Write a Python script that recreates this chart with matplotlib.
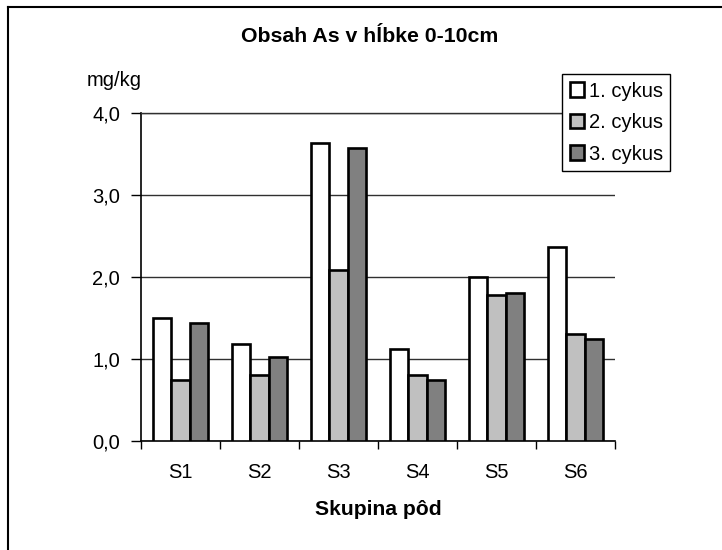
import matplotlib
matplotlib.use("Agg")
import matplotlib.pyplot as plt
import numpy as np
from matplotlib.lines import Line2D

plt.rcParams["font.family"] = ["Liberation Sans", "DejaVu Sans"]

categories = ["S1", "S2", "S3", "S4", "S5", "S6"]
series_names = ["1. cykus", "2. cykus", "3. cykus"]
cyklus_1 = [1.50, 1.18, 3.63, 1.12, 2.00, 2.37]
cyklus_2 = [0.75, 0.80, 2.08, 0.81, 1.78, 1.30]
cyklus_3 = [1.44, 1.03, 3.57, 0.74, 1.81, 1.25]
y_ticks = [0.0, 1.0, 2.0, 3.0, 4.0]

W, H = 722, 550
fig = plt.figure(figsize=(W / 100, H / 100), dpi=100)
ax = fig.add_axes([141 / W, 1 - 441 / H, (615 - 141) / W, (441 - 113) / H])

colors = ["#FFFFFF", "#C0C0C0", "#808080"]
bar_w = 0.228
x = np.arange(len(categories))
handles = []
for i, (vals, col, name) in enumerate(zip([cyklus_1, cyklus_2, cyklus_3], colors, series_names)):
    b = ax.bar(x + (i - 1) * bar_w, vals, width=bar_w, color=col, edgecolor="black",
               linewidth=1.9, label=name, zorder=3)
    handles.append(b)

ax.set_xlim(-0.5, len(categories) - 0.5)
ax.set_ylim(0, 4)
ax.set_yticks(y_ticks)
ax.set_yticklabels([f"{v:.1f}".replace(".", ",") for v in y_ticks])
ax.set_xticks(x)
ax.set_xticklabels(categories)
ax.tick_params(axis="x", which="major", length=0, labelsize=14.5, pad=16)
ax.set_xticks(np.arange(-0.5, len(categories)), minor=True)
ax.tick_params(axis="x", which="minor", length=6, width=1, direction="out")
ax.tick_params(axis="y", length=7, width=1, direction="out", labelsize=14.5, pad=8)

ax.yaxis.grid(True, color="#303030", linewidth=1, zorder=0)
ax.set_axisbelow(True)
for s in ["left", "bottom"]:
    ax.spines[s].set_color("black")
    ax.spines[s].set_linewidth(1.2)
ax.spines["right"].set_visible(False)
ax.spines["top"].set_color("#303030")
ax.spines["top"].set_linewidth(1)

ax.set_xlabel("Skupina pôd", fontsize=15.2, fontweight="bold", labelpad=13)
fig.text(370 / W, 1 - 37 / H, "Obsah As v hĺbke 0-10cm", fontsize=15.3,
         fontweight="bold", ha="center", va="center")
fig.text(114 / W, 1 - 81 / H, "mg/kg", fontsize=14.5, ha="center", va="center")

leg = ax.legend(handles=handles, loc="upper left", bbox_to_anchor=(562 / W, 1 - 74 / H),
                bbox_transform=fig.transFigure, fontsize=14.5, frameon=True, fancybox=False,
                shadow=False, borderpad=0.38, labelspacing=0.62, handlelength=0.72,
                handleheight=0.72, handletextpad=0.22, borderaxespad=0)
leg.get_frame().set_edgecolor("black")
leg.get_frame().set_linewidth(1)
leg.get_frame().set_alpha(1)

fig.add_artist(Line2D([8 / W, 8 / W], [0, 1 - 7 / H], transform=fig.transFigure,
                      color="black", linewidth=1.5))
fig.add_artist(Line2D([8 / W, 1], [1 - 7 / H, 1 - 7 / H], transform=fig.transFigure,
                      color="black", linewidth=1.5))

fig.savefig("out.png", dpi=100)
